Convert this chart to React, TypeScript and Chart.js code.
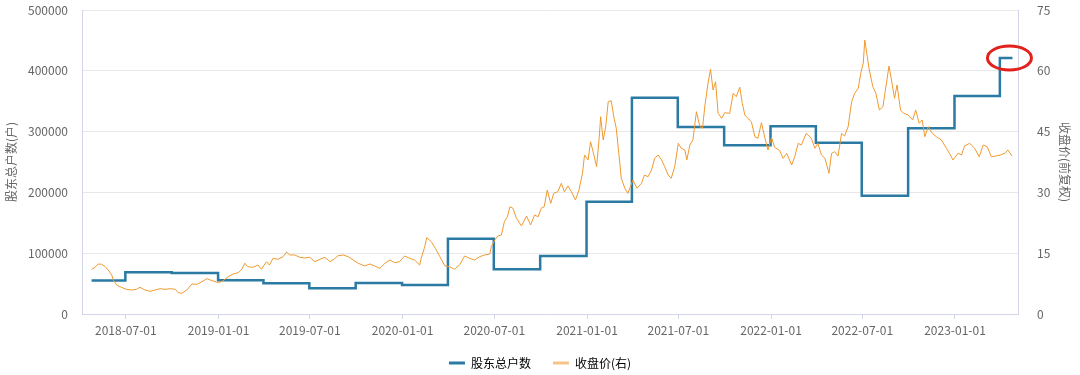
import { useEffect, useRef } from 'react';
import { Chart, registerables } from 'chart.js';

Chart.register(...registerables);

// 股东总户数 (quarterly report dates -> holder count)
const holderDates = [
  '2018-04-24', '2018-06-30', '2018-09-30', '2018-12-31', '2019-03-31', '2019-06-30',
  '2019-09-30', '2019-12-31', '2020-03-31', '2020-06-30', '2020-09-30', '2020-12-31',
  '2021-03-31', '2021-06-30', '2021-09-30', '2021-12-31', '2022-03-31', '2022-06-30',
  '2022-09-30', '2022-12-31', '2023-03-31', '2023-04-25',
];
const holderCounts = [
  55000, 68600, 67400, 55400, 50500, 42200,
  51000, 47700, 123800, 73500, 95400, 184700,
  355800, 307600, 277400, 308700, 281800, 194600,
  305400, 358600, 421000, 421000,
];

// 收盘价(前复权)
const priceDates = [
  '2018-04-24', '2018-05-01', '2018-05-07', '2018-05-14', '2018-05-21', '2018-05-27', '2018-06-03', '2018-06-06', '2018-06-13', '2018-06-22',
  '2018-07-02', '2018-07-12', '2018-07-22', '2018-07-29', '2018-08-08', '2018-08-18', '2018-08-28', '2018-09-07', '2018-09-17', '2018-09-27',
  '2018-10-07', '2018-10-13', '2018-10-20', '2018-10-30', '2018-11-09', '2018-11-19', '2018-11-29', '2018-12-09', '2018-12-19', '2019-01-01',
  '2019-01-10', '2019-01-20', '2019-01-30', '2019-02-09', '2019-02-16', '2019-02-22', '2019-02-28', '2019-03-10', '2019-03-20', '2019-03-27',
  '2019-04-06', '2019-04-12', '2019-04-19', '2019-04-29', '2019-05-09', '2019-05-16', '2019-05-22', '2019-06-01', '2019-06-11', '2019-06-21',
  '2019-07-01', '2019-07-11', '2019-07-21', '2019-07-31', '2019-08-10', '2019-08-19', '2019-08-26', '2019-09-05', '2019-09-15', '2019-09-25',
  '2019-10-05', '2019-10-18', '2019-10-28', '2019-11-07', '2019-11-17', '2019-11-27', '2019-12-07', '2019-12-16', '2019-12-26', '2020-01-05',
  '2020-01-15', '2020-01-25', '2020-02-04', '2020-02-07', '2020-02-14', '2020-02-18', '2020-02-27', '2020-03-06', '2020-03-15', '2020-03-25',
  '2020-04-03', '2020-04-13', '2020-04-23', '2020-05-03', '2020-05-13', '2020-05-23', '2020-06-02', '2020-06-12', '2020-06-22', '2020-06-25',
  '2020-07-02', '2020-07-08', '2020-07-15', '2020-07-21', '2020-07-27', '2020-08-01', '2020-08-07', '2020-08-14', '2020-08-24', '2020-09-03',
  '2020-09-11', '2020-09-19', '2020-09-26', '2020-10-02', '2020-10-08', '2020-10-14', '2020-10-21', '2020-10-27', '2020-11-04', '2020-11-11',
  '2020-11-17', '2020-11-24', '2020-12-01', '2020-12-09', '2020-12-16', '2020-12-23', '2020-12-27', '2021-01-03', '2021-01-08', '2021-01-13',
  '2021-01-20', '2021-01-25', '2021-01-28', '2021-02-02', '2021-02-07', '2021-02-12', '2021-02-18', '2021-02-23', '2021-02-28', '2021-03-05',
  '2021-03-10', '2021-03-17', '2021-03-23', '2021-03-28', '2021-04-02', '2021-04-10', '2021-04-19', '2021-04-25', '2021-05-02', '2021-05-09',
  '2021-05-15', '2021-05-22', '2021-05-29', '2021-06-04', '2021-06-11', '2021-06-17', '2021-06-24', '2021-07-01', '2021-07-07', '2021-07-14',
  '2021-07-18', '2021-07-24', '2021-07-30', '2021-08-06', '2021-08-13', '2021-08-18', '2021-08-23', '2021-08-29', '2021-09-03', '2021-09-08',
  '2021-09-13', '2021-09-18', '2021-09-25', '2021-10-01', '2021-10-11', '2021-10-18', '2021-10-24', '2021-10-31', '2021-11-05', '2021-11-10',
  '2021-11-16', '2021-11-23', '2021-11-30', '2021-12-06', '2021-12-13', '2021-12-20', '2021-12-26', '2022-01-02', '2022-01-08', '2022-01-18',
  '2022-01-25', '2022-02-01', '2022-02-11', '2022-02-17', '2022-02-24', '2022-03-02', '2022-03-12', '2022-03-22', '2022-03-29', '2022-04-04',
  '2022-04-11', '2022-04-18', '2022-04-26', '2022-05-01', '2022-05-07', '2022-05-14', '2022-05-21', '2022-05-27', '2022-06-03', '2022-06-10',
  '2022-06-16', '2022-06-23', '2022-06-28', '2022-07-03', '2022-07-06', '2022-07-11', '2022-07-15', '2022-07-22', '2022-07-28', '2022-08-04',
  '2022-08-11', '2022-08-18', '2022-08-23', '2022-08-28', '2022-09-03', '2022-09-08', '2022-09-15', '2022-09-21', '2022-09-30', '2022-10-09',
  '2022-10-15', '2022-10-22', '2022-10-28', '2022-11-02', '2022-11-09', '2022-11-17', '2022-11-25', '2022-12-05', '2022-12-15', '2022-12-23',
  '2022-12-28', '2023-01-07', '2023-01-14', '2023-01-20', '2023-01-30', '2023-02-09', '2023-02-18', '2023-02-26', '2023-03-06', '2023-03-14',
  '2023-03-23', '2023-04-01', '2023-04-10', '2023-04-16', '2023-04-24',
];
const priceValues = [
  11.03, 11.52, 12.34, 12.26, 11.67, 10.86, 9.62, 8.39, 7.15, 6.59,
  6.09, 5.92, 6.09, 6.59, 5.92, 5.6, 5.92, 6.24, 6.09, 6.24,
  6.09, 5.25, 5.11, 5.92, 7.4, 7.33, 7.97, 8.71, 8.22, 7.72,
  8.22, 9.2, 9.87, 10.19, 11.03, 12.51, 11.67, 11.52, 12.09, 11.03,
  12.9, 12.09, 13.74, 13.49, 14.14, 15.3, 14.56, 14.56, 13.99, 13.82,
  13.99, 12.9, 13.49, 13.99, 12.9, 13.64, 14.38, 14.56, 14.14, 13.32,
  12.51, 11.84, 12.34, 11.84, 11.27, 12.51, 13.32, 12.66, 12.9, 14.31,
  13.74, 13.32, 12.09, 13.74, 16.6, 18.82, 17.84, 16.21, 14.14, 11.84,
  11.67, 11.03, 12.09, 14.31, 13.74, 13.32, 14.14, 14.56, 14.8, 16.6,
  18.26, 19.24, 19.49, 22.77, 24.0, 26.47, 26.08, 23.61, 21.71, 24.18,
  21.96, 24.42, 24.0, 26.08, 26.47, 30.59, 27.31, 29.78, 30.17, 32.24,
  30.17, 31.58, 30.17, 28.12, 30.59, 34.71, 39.23, 37.99, 42.51, 40.04,
  36.34, 43.35, 48.68, 42.93, 46.21, 52.38, 52.62, 48.68, 45.81, 39.65,
  33.48, 31.01, 29.78, 31.41, 33.06, 31.01, 32.24, 34.29, 33.87, 35.53,
  38.41, 39.23, 37.99, 36.34, 34.29, 33.48, 36.34, 42.11, 40.88, 40.46,
  37.99, 41.69, 42.93, 49.91, 46.21, 45.81, 51.56, 56.92, 60.37, 55.26,
  57.31, 49.51, 48.28, 49.66, 49.51, 54.45, 53.61, 55.93, 51.98, 49.1,
  48.28, 47.44, 43.74, 43.35, 47.2, 43.35, 40.46, 43.59, 41.13, 40.34,
  38.41, 39.65, 36.76, 38.81, 42.11, 41.69, 44.58, 43.35, 40.88, 42.11,
  39.23, 38.41, 34.71, 39.65, 40.04, 38.98, 44.58, 43.91, 46.21, 52.38,
  54.45, 55.68, 59.38, 61.85, 67.6, 63.48, 60.2, 56.08, 54.45, 50.33,
  51.14, 56.92, 61.18, 57.73, 53.21, 56.5, 50.33, 49.51, 49.1, 47.86,
  50.33, 47.05, 47.86, 43.74, 46.21, 44.58, 43.74, 42.93, 40.88, 39.23,
  37.99, 39.65, 39.23, 41.45, 42.11, 40.88, 38.81, 41.69, 41.27, 38.81,
  38.98, 39.23, 39.65, 40.46, 38.98,
];

const xTickDates = [
  '2018-07-01', '2019-01-01', '2019-07-01', '2020-01-01', '2020-07-01',
  '2021-01-01', '2021-07-01', '2022-01-01', '2022-07-01', '2023-01-01',
];
const xRange = ['2018-04-05', '2023-05-06'];

const BLUE = '#2a7aa3';
const ORANGE = '#f0992f';
const ORANGE_LEGEND = '#f5c38c';
const FONT = '"Noto Sans CJK SC", "Noto Sans", sans-serif';
const AXIS_LINE = '#d3d6ea';
const CLEAR = 'rgba(0,0,0,0)';

const ts = (d: string) => Date.parse(d);

const highlightPlugin = {
  id: 'highlightLast',
  afterDatasetsDraw(chart: any) {
    const meta = chart.getDatasetMeta(0);
    const pts = meta.data;
    if (!pts || !pts.length) return;
    const last = pts[pts.length - 1];
    const ctx = chart.ctx;
    ctx.save();
    ctx.beginPath();
    ctx.ellipse(last.x - 3, last.y, 22, 12, 0, 0, Math.PI * 2);
    ctx.strokeStyle = '#e3211c';
    ctx.lineWidth = 3;
    ctx.stroke();
    ctx.restore();
  },
};

export default function App() {
  const ref = useRef<HTMLCanvasElement | null>(null);

  useEffect(() => {
    if (!ref.current) return;
    const chart = new Chart(ref.current, {
      type: 'line',
      data: {
        datasets: [
          {
            label: '股东总户数',
            data: holderDates.map((d, i) => ({ x: ts(d), y: holderCounts[i] })),
            borderColor: BLUE,
            backgroundColor: BLUE,
            borderWidth: 2.5,
            stepped: true,
            pointRadius: 0,
            yAxisID: 'y',
            order: 1,
          },
          {
            label: '收盘价(右)',
            data: priceDates.map((d, i) => ({ x: ts(d), y: priceValues[i] })),
            borderColor: ORANGE,
            backgroundColor: ORANGE,
            borderWidth: 1,
            pointRadius: 0,
            tension: 0,
            yAxisID: 'y1',
            order: 0,
          },
        ],
      },
      options: {
        animation: false,
        responsive: false,
        layout: { padding: { top: 10, bottom: -4, left: 0, right: 0 } },
        plugins: {
          tooltip: { enabled: false },
          legend: {
            position: 'bottom',
            labels: {
              boxWidth: 16,
              boxHeight: 3,
              padding: 22,
              color: '#444',
              font: { family: FONT, size: 12 },
              generateLabels: () => [
                { text: '股东总户数', fillStyle: BLUE, strokeStyle: BLUE, lineWidth: 0, hidden: false, datasetIndex: 0 },
                { text: '收盘价(右)', fillStyle: ORANGE_LEGEND, strokeStyle: ORANGE_LEGEND, lineWidth: 0, hidden: false, datasetIndex: 1 },
              ],
            },
          },
        },
        scales: {
          x: {
            type: 'linear',
            min: ts(xRange[0]),
            max: ts(xRange[1]),
            afterBuildTicks: (scale: any) => {
              scale.ticks = xTickDates.map((d) => ({ value: ts(d) }));
            },
            afterFit: (scale: any) => {
              scale.height = 21;
            },
            ticks: {
              autoSkip: false,
              maxRotation: 0,
              padding: 4,
              color: '#666',
              font: { family: FONT, size: 12 },
              callback: (v: any) => new Date(Number(v)).toISOString().slice(0, 10),
            },
            grid: { display: true, drawOnChartArea: false, drawTicks: true, tickLength: 5, color: AXIS_LINE },
            border: { display: true, color: AXIS_LINE },
          },
          y: {
            type: 'linear',
            position: 'left',
            min: 0,
            max: 500000,
            afterFit: (scale: any) => {
              scale.width = 82;
            },
            ticks: {
              stepSize: 100000,
              padding: 0,
              color: '#666',
              font: { family: FONT, size: 12 },
              callback: (v: any) => String(v),
            },
            grid: { color: '#e8e8e8', drawTicks: true, tickLength: 14, tickColor: CLEAR },
            border: { display: true, color: AXIS_LINE },
            title: {
              display: true,
              text: '股东总户数(户)',
              color: '#666',
              font: { family: FONT, size: 12 },
              padding: { top: 4, bottom: 4 },
            },
          },
          y1: {
            type: 'linear',
            position: 'right',
            min: 0,
            max: 75,
            afterFit: (scale: any) => {
              scale.width = 62;
            },
            ticks: {
              stepSize: 15,
              padding: 0,
              color: '#666',
              font: { family: FONT, size: 12 },
              callback: (v: any) => String(v),
            },
            grid: { drawOnChartArea: false, drawTicks: true, tickLength: 19, tickColor: CLEAR },
            border: { display: true, color: AXIS_LINE },
            title: {
              display: true,
              text: '收盘价(前复权)',
              color: '#666',
              font: { family: FONT, size: 12 },
              padding: { top: 8, bottom: 4 },
            },
          },
        },
      },
      plugins: [highlightPlugin],
    } as any);
    return () => chart.destroy();
  }, []);

  return (
    <div style={{ position: 'absolute', left: 0, top: 0, width: 1080, height: 375, background: '#fff' }}>
      <canvas ref={ref} width={1080} height={375} style={{ display: 'block' }} />
    </div>
  );
}
